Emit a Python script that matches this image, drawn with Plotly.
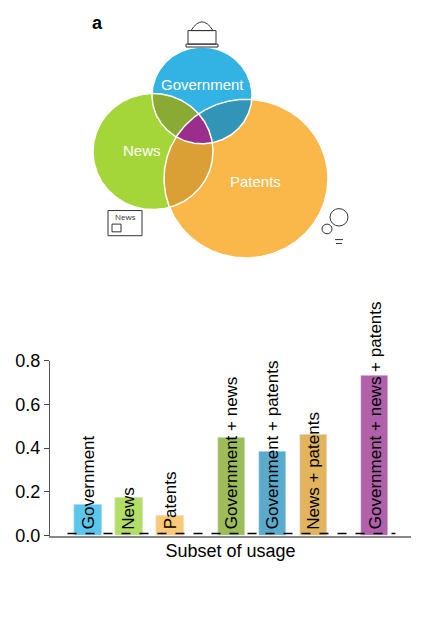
import numpy as np
import plotly.graph_objects as go

categories = ["Government", "News", "Patents", "Government + news", "Government + patents", "News + patents", "Government + news + patents"]
positions = [0, 1, 2, 3.5, 4.5, 5.5, 7]
values = [0.14, 0.175, 0.09, 0.45, 0.385, 0.46, 0.73]
bar_colors = ["#5cc6ec", "#b3de66", "#fcc977", "#9cbd58", "#5aabcb", "#e2b45d", "#b061a9"]
yticks = [0.0, 0.2, 0.4, 0.6, 0.8]

circles = {"Government": (202, 95, 50, "#33b3e3"),
           "News": (153, 153, 60, "#a4d63a"),
           "Patents": (246, 181, 82, "#fbb84a")}
pair_colors = {("Government", "News"): "#8aab33", ("Government", "Patents"): "#3295b8",
               ("News", "Patents"): "#dba035"}
triple_color = "#9b2d8c"

fig = go.Figure()

def circ_pts(c, n=400):
    x, y, r, _ = circles[c]
    t = np.linspace(0, 2*np.pi, n, endpoint=False)
    return x + r*np.cos(t), y + r*np.sin(t)

def inside(px, py, c):
    x, y, r, _ = circles[c]
    return (px-x)**2 + (py-y)**2 <= r*r + 1e-6

def region(names):
    xs, ys = [], []
    for c in names:
        px, py = circ_pts(c, 2000)
        m = np.ones_like(px, bool)
        for o in names:
            if o != c:
                m &= inside(px, py, o)
        xs.append(px[m]); ys.append(py[m])
    xs = np.concatenate(xs); ys = np.concatenate(ys)
    cx, cy = xs.mean(), ys.mean()
    order = np.argsort(np.arctan2(ys-cy, xs-cx))
    return np.append(xs[order], xs[order][0]), np.append(ys[order], ys[order][0])

for name, (x, y, r, col) in circles.items():
    px, py = circ_pts(name)
    fig.add_trace(go.Scatter(x=np.append(px, px[0]), y=np.append(py, py[0]), fill="toself", fillcolor=col,
                             line=dict(width=0), mode="lines", xaxis="x2", yaxis="y2", hoverinfo="skip", showlegend=False))
for pair, col in pair_colors.items():
    px, py = region(list(pair))
    fig.add_trace(go.Scatter(x=px, y=py, fill="toself", fillcolor=col, line=dict(width=0), mode="lines",
                             xaxis="x2", yaxis="y2", hoverinfo="skip", showlegend=False))
px, py = region(list(circles))
fig.add_trace(go.Scatter(x=px, y=py, fill="toself", fillcolor=triple_color, line=dict(width=0), mode="lines",
                         xaxis="x2", yaxis="y2", hoverinfo="skip", showlegend=False))
for name in circles:
    px, py = circ_pts(name)
    fig.add_trace(go.Scatter(x=np.append(px, px[0]), y=np.append(py, py[0]), mode="lines",
                             line=dict(color="white", width=1.5), xaxis="x2", yaxis="y2", hoverinfo="skip", showlegend=False))

venn_labels = [("Government", 202, 84), ("News", 142, 152), ("Patents", 255, 184)]
for t, x, y in venn_labels:
    fig.add_annotation(x=x, y=y, xref="x2", yref="y2", text=t, showarrow=False,
                       font=dict(color="white", size=15, family="Liberation Sans"))

ic = dict(color="#333", width=1)
shapes = [
    dict(type="rect", x0=188, x1=216, y0=28, y1=42, xref="x2", yref="y2", line=ic),
    dict(type="rect", x0=186, x1=218, y0=42, y1=45, xref="x2", yref="y2", line=ic),
    dict(type="path", path="M 191 28 Q 202 10 213 28 Z", xref="x2", yref="y2", line=ic),
    dict(type="line", x0=202, x1=202, y0=4, y1=14, xref="x2", yref="y2", line=ic),
    dict(type="rect", x0=108, x1=142, y0=214, y1=240, xref="x2", yref="y2", line=ic),
    dict(type="rect", x0=112, x1=121, y0=228, y1=236, xref="x2", yref="y2", line=ic),
    dict(type="circle", x0=330, x1=348, y0=212, y1=230, xref="x2", yref="y2", line=ic),
    dict(type="circle", x0=322, x1=332, y0=228, y1=238, xref="x2", yref="y2", line=ic),
    dict(type="line", x0=335, x1=343, y0=244, y1=244, xref="x2", yref="y2", line=ic),
    dict(type="line", x0=336, x1=342, y0=248, y1=248, xref="x2", yref="y2", line=ic),
]
fig.add_annotation(x=125, y=220, xref="x2", yref="y2", text="News", showarrow=False, font=dict(size=8, color="#333"))

fig.add_trace(go.Bar(x=positions, y=values, marker_color=bar_colors, width=0.66, showlegend=False,
                     xaxis="x", yaxis="y"))
fig.add_trace(go.Scatter(x=[-0.5, 7.5], y=[0.01, 0.01], mode="lines", line=dict(color="black", width=1.5, dash="dash"),
                         showlegend=False, xaxis="x", yaxis="y"))
for p, c in zip(positions, categories):
    fig.add_annotation(x=p, y=0.02, xref="x", yref="y", text=c, textangle=-90, showarrow=False,
                       yanchor="bottom", font=dict(size=17, color="black", family="Liberation Sans"))

fig.add_annotation(x=97, y=20, xref="x2", yref="y2", text="<b>a</b>", showarrow=False,
                   font=dict(size=18, color="black", family="Liberation Sans"))

fig.update_layout(
    width=421, height=617, margin=dict(l=0, r=0, t=0, b=0), plot_bgcolor="white", paper_bgcolor="white",
    shapes=shapes, bargap=0,
    xaxis=dict(domain=[42/421, 403/421], range=[-0.927, 7.88], showticklabels=False, ticks="",
               showgrid=False, zeroline=False, showline=True, linecolor="#888", linewidth=1.5,
               title=dict(text="Subset of usage", font=dict(size=18, color="black", family="Liberation Sans"), standoff=8)),
    yaxis=dict(domain=[(617-535)/617, (617-354)/617], range=[0, 0.8], tickvals=yticks,
               ticktext=[f"{v:.1f}" for v in yticks], ticks="outside", ticklen=5, showgrid=False, zeroline=False,
               showline=True, linecolor="#555", tickfont=dict(size=18, color="black", family="Liberation Sans")),
    xaxis2=dict(domain=[0, 1], range=[8, 429], visible=False, fixedrange=True),
    yaxis2=dict(domain=[(617-280)/617, 1], range=[295, 15], visible=False, fixedrange=True),
)
fig.write_html("out.html")
